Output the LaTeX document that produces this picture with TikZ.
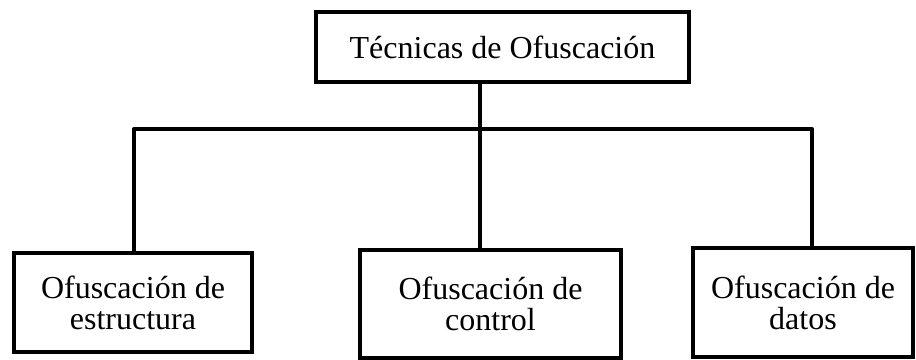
\documentclass[tikz,border=0pt]{standalone}
\usepackage{fontspec}
\setmainfont{Liberation Serif}
\begin{document}
\begin{tikzpicture}[x=1pt,y=1pt,
  box/.style={draw=black,line width=4.5pt,fill=white,inner sep=0pt,align=center,
    font=\fontsize{32}{31}\selectfont},
  conn/.style={draw=black,line width=4pt,line join=round}]
\useasboundingbox (0,0) rectangle (916,-359);
\node[box,minimum width=373pt,minimum height=70pt] (top) at (502.5,-47) {Técnicas de Ofuscación};
\node[box,minimum width=238pt,minimum height=99pt] (left) at (133,-302.5) {Ofuscación de\\estructura};
\node[box,minimum width=261pt,minimum height=108pt] (mid) at (490.5,-304) {Ofuscación de\\control};
\node[box,minimum width=220pt,minimum height=109pt] (right) at (803,-302.5) {Ofuscación de\\datos};
\coordinate (j) at (480,-129);
\coordinate (lj) at (134,-129);
\coordinate (rj) at (812,-129);
\draw[conn] (top.south -| j) -- (j);
\draw[conn] (left.north -| lj) -- (lj) -- (rj) -- (right.north -| rj);
\draw[conn] (j) -- (mid.north -| j);
\end{tikzpicture}
\end{document}
